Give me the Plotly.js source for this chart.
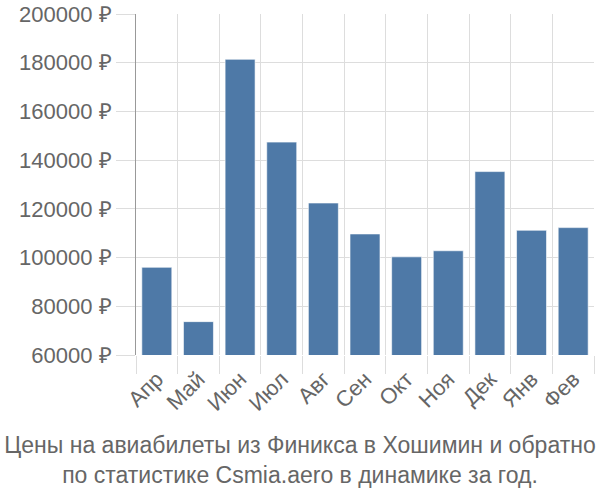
<!DOCTYPE html>
<html>
<head>
<meta charset="utf-8">
<script src="https://cdn.plot.ly/plotly-3.0.1.min.js"></script>
<style>html,body{margin:0;padding:0;background:#fff}#chart{width:600px;height:500px}</style>
</head>
<body>
<div id="chart"></div>
<script>
const months = ["Апр","Май","Июн","Июл","Авг","Сен","Окт","Ноя","Дек","Янв","Фев"];
const prices = [96000, 73700, 181400, 147400, 122400, 109700, 100300, 102800, 135300, 111200, 112300];
const yTicks = [60000, 80000, 100000, 120000, 140000, 160000, 180000, 200000];
const yTickLabels = yTicks.map(v => v + " ₽");
const titleText = "Цены на авиабилеты из Финикса в Хошимин и обратно<br>по статистике Csmia.aero в динамике за год.";

const font = "Liberation Sans, Arial, sans-serif";
Plotly.newPlot("chart", [{
  type: "bar",
  x: months,
  y: prices,
  marker: {color: "#4e79a7", line: {color: "rgba(255,255,255,0.6)", width: 1}},
  hoverinfo: "skip"
}], {
  width: 600, height: 500,
  margin: {l: 136, r: 6, t: 14, b: 145},
  paper_bgcolor: "#fff", plot_bgcolor: "#fff",
  bargap: 0.28,
  showlegend: false,
  font: {family: font, color: "#666"},
  title: {text: titleText, font: {family: font, size: 23, color: "#666"},
          x: 0.5, xanchor: "center", xref: "container", y: 0.094, yanchor: "top", yref: "container"},
  xaxis: {
    type: "category", tickangle: -45, tickson: "boundaries",
    ticks: "outside", ticklen: 18, tickcolor: "#ddd", tickwidth: 1,
    showgrid: true, gridcolor: "#ddd", gridwidth: 1,
    showline: false, zeroline: false, ticklabelstandoff: 6,
    tickfont: {family: font, size: 22, color: "#666"}
  },
  yaxis: {
    range: [60000, 200000], tickvals: yTicks, ticktext: yTickLabels,
    ticks: "outside", ticklen: 19, tickcolor: "#ddd", tickwidth: 1,
    showgrid: true, gridcolor: "#ddd", gridwidth: 1,
    showline: true, linecolor: "#999", linewidth: 1,
    zeroline: false,
    tickfont: {family: font, size: 22, color: "#666"}
  }
}, {displayModeBar: false, staticPlot: true});
</script>
</body>
</html>
